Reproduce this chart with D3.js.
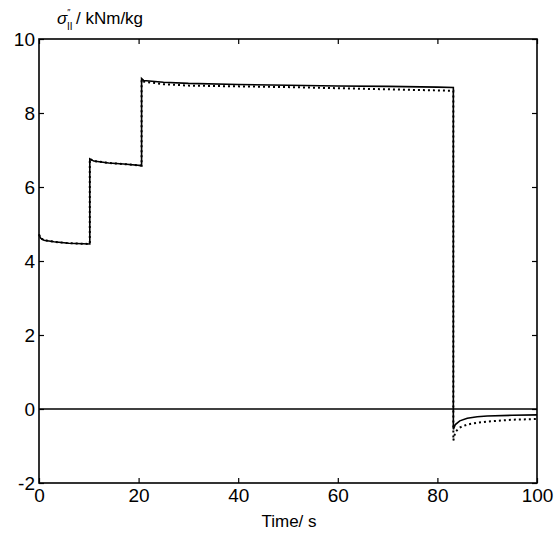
<!DOCTYPE html>
<html>
<head>
<meta charset="utf-8">
<script src="https://cdn.jsdelivr.net/npm/d3@7"></script>
<style>
  body { margin: 0; background: #fff; }
  text { font-family: "Liberation Sans", Arial, sans-serif; fill: #000; }
</style>
</head>
<body>
<div id="chart"></div>
<script>
// time points (s) shared by both traces
var times = [0, 0.3, 1, 3, 6, 10.2,
  10.2, 11, 14, 17, 20.6,
  20.6, 21, 25, 30, 40, 50, 60, 70, 80, 83.2,
  83.2, 83.6, 84.5, 86, 88, 90, 95, 100];

var solidVals = [4.72, 4.62, 4.56, 4.52, 4.48, 4.46,
  6.76, 6.70, 6.65, 6.62, 6.58,
  8.93, 8.88, 8.83, 8.80, 8.77, 8.75, 8.73, 8.72, 8.70, 8.69,
  -0.55, -0.42, -0.32, -0.25, -0.21, -0.19, -0.17, -0.16];

var dottedVals = [4.72, 4.62, 4.56, 4.52, 4.48, 4.46,
  6.76, 6.70, 6.65, 6.62, 6.58,
  8.90, 8.85, 8.78, 8.74, 8.72, 8.70, 8.67, 8.64, 8.61, 8.60,
  -0.85, -0.62, -0.50, -0.42, -0.37, -0.34, -0.29, -0.27];

var zeroTimes = [0, 100];
var zeroVals = [0, 0];

var xTicks = [0, 20, 40, 60, 80, 100];
var yTicks = [-2, 0, 2, 4, 6, 8, 10];

var margin = { top: 39, right: 19, bottom: 50, left: 39 };
var width = 556 - margin.left - margin.right,
    height = 483 - margin.top;

var svg = d3.select('#chart').append('svg')
  .attr('width', 556)
  .attr('height', 533);

var g = svg.append('g')
  .attr('transform', 'translate(' + margin.left + ',' + margin.top + ')');

var xScale = d3.scaleLinear().domain([0, 100]).range([0, width]);
var yScale = d3.scaleLinear().domain([-2, 10]).range([height, 0]);

var line = d3.line()
  .x(function (d) { return xScale(d[0]); })
  .y(function (d) { return yScale(d[1]); });

function pairs(xs, ys) {
  return xs.map(function (x, i) { return [x, ys[i]]; });
}

// zero reference line
g.append('path')
  .attr('d', line(pairs(zeroTimes, zeroVals)))
  .attr('fill', 'none')
  .attr('stroke', '#000')
  .attr('stroke-width', 1.6);

// dotted trace
g.append('path')
  .attr('d', line(pairs(times, dottedVals)))
  .attr('fill', 'none')
  .attr('stroke', '#000')
  .attr('stroke-width', 2)
  .attr('stroke-dasharray', '2,3');

// solid trace
g.append('path')
  .attr('d', line(pairs(times, solidVals)))
  .attr('fill', 'none')
  .attr('stroke', '#000')
  .attr('stroke-width', 1.6);

// axes, ticks pointing inwards
var plain = function (d) { return String(d); };
var axBottom = g.append('g')
  .attr('transform', 'translate(0,' + height + ')')
  .call(d3.axisBottom(xScale).tickValues(xTicks).tickFormat(plain).tickSizeInner(-5).tickSizeOuter(0).tickPadding(6));
var axLeft = g.append('g')
  .call(d3.axisLeft(yScale).tickValues(yTicks).tickFormat(plain).tickSizeInner(-5).tickSizeOuter(0).tickPadding(4));
var axTop = g.append('g')
  .call(d3.axisTop(xScale).tickValues(xTicks).tickSizeInner(-5).tickSizeOuter(0).tickFormat(''));
var axRight = g.append('g')
  .attr('transform', 'translate(' + width + ',0)')
  .call(d3.axisRight(yScale).tickValues(yTicks).tickSizeInner(-5).tickSizeOuter(0).tickFormat(''));

[axBottom, axLeft, axTop, axRight].forEach(function (a) {
  a.select('.domain').remove();
  a.selectAll('line').attr('stroke', '#000').attr('stroke-width', 1.2);
  a.selectAll('text').style('font-size', '19px');
});

g.append('rect')
  .attr('width', width)
  .attr('height', height)
  .attr('fill', 'none')
  .attr('stroke', '#000')
  .attr('stroke-width', 1.6);

// axis titles
svg.append('text')
  .attr('x', 289)
  .attr('y', 527)
  .attr('text-anchor', 'middle')
  .style('font-size', '17px')
  .text('Time/ s');

var yt = svg.append('text')
  .attr('x', 57)
  .attr('y', 24)
  .style('font-size', '17px');
yt.append('tspan').style('font-style', 'italic').text('σ');
yt.append('tspan').attr('dy', -9).style('font-size', '9px').text('″');
yt.append('tspan').attr('x', 67).attr('dy', 15).style('font-size', '10px').text('II');
yt.append('tspan').attr('x', 76).attr('dy', -6).text('/ kNm/kg');
</script>
</body>
</html>
